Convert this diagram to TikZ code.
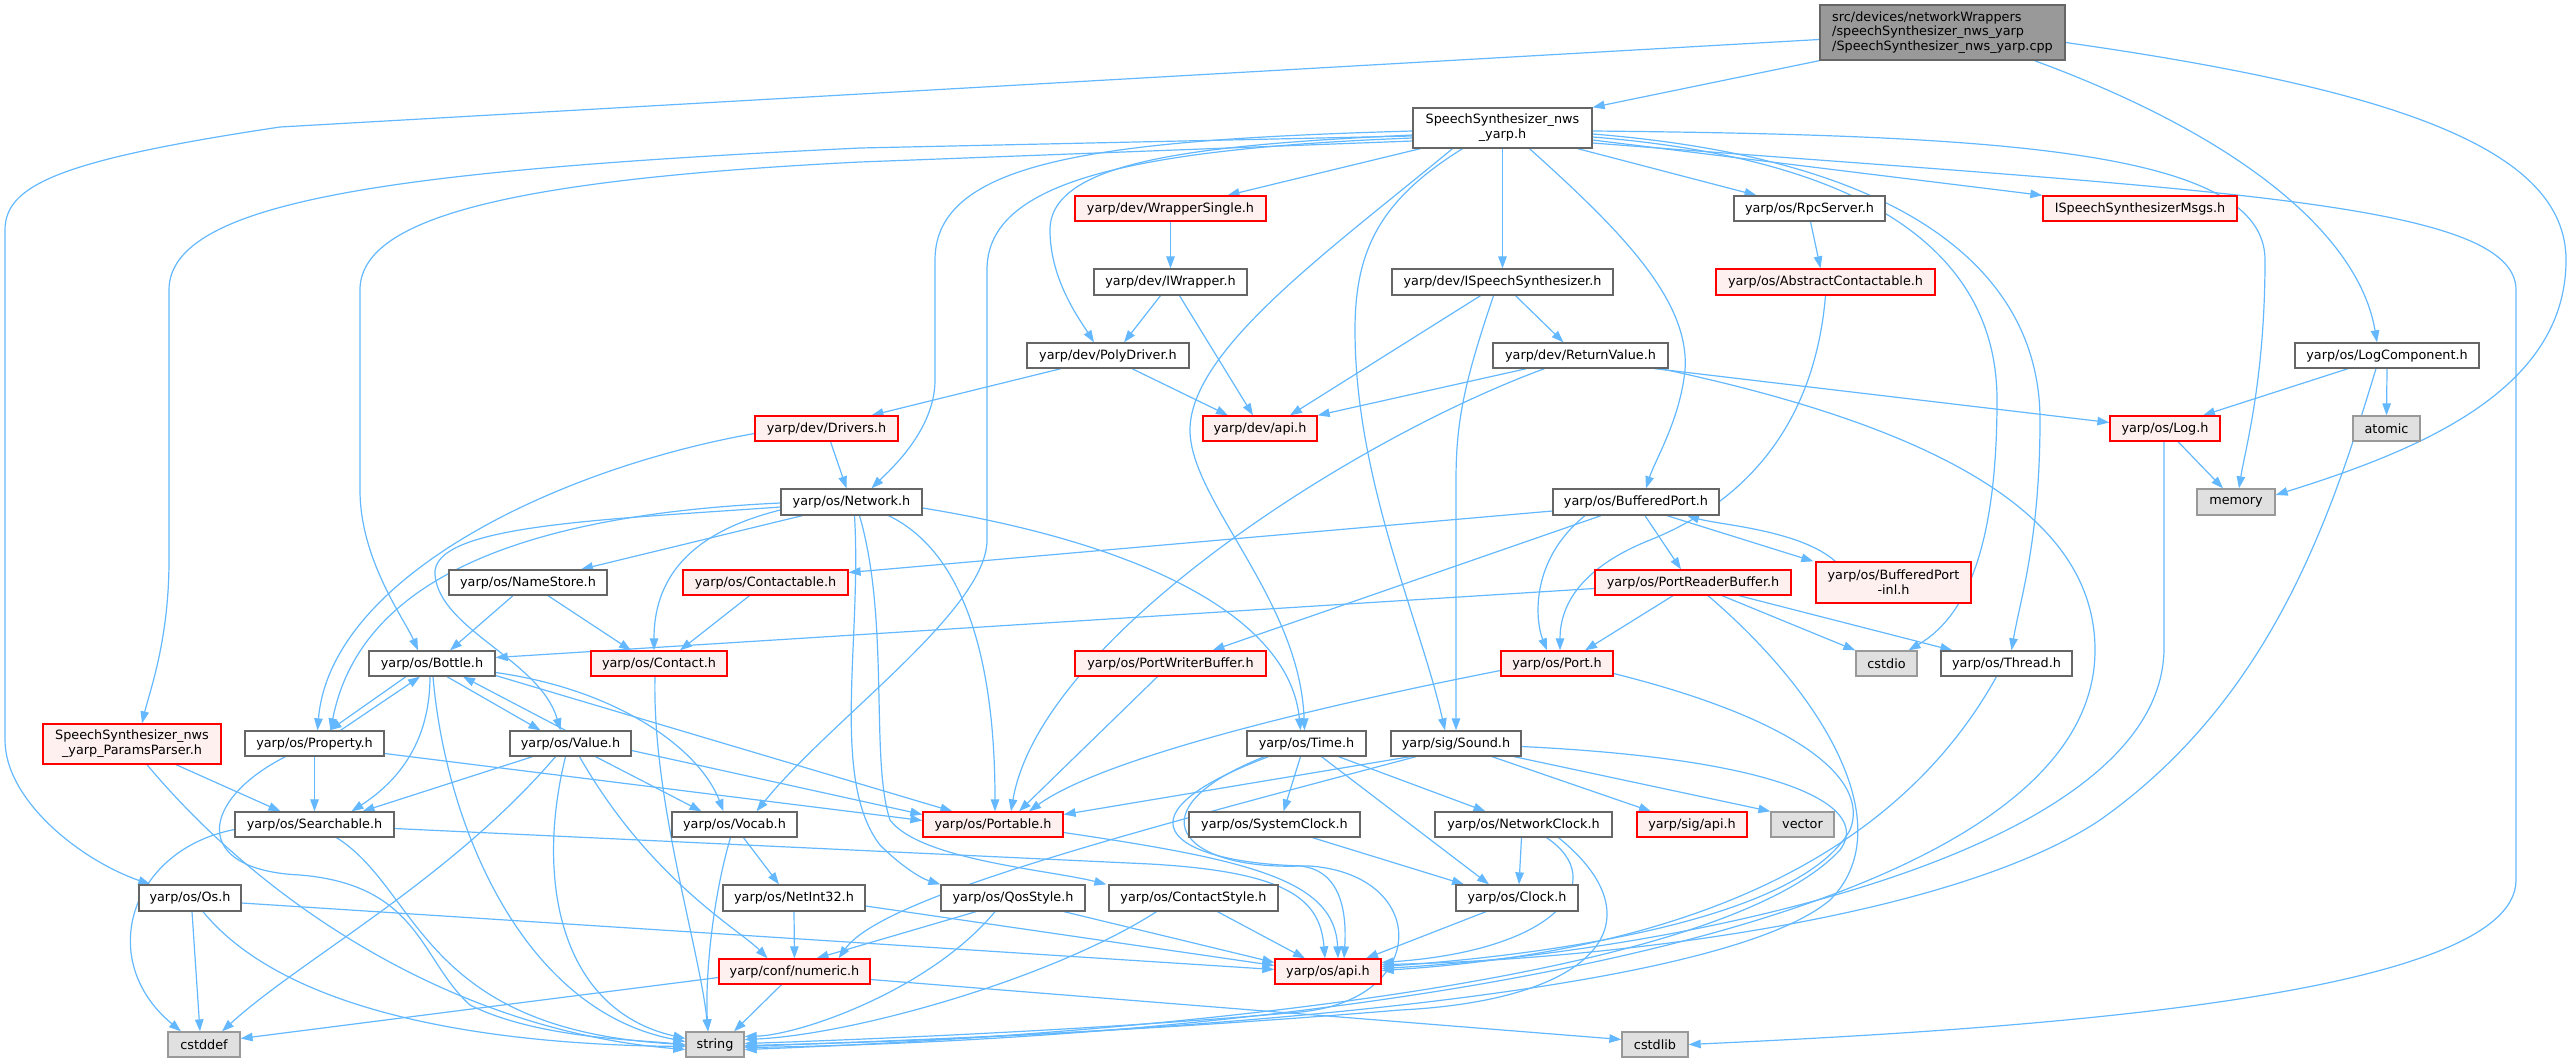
\documentclass[tikz,border=0pt]{standalone}
\usepackage{fontspec}
\setmainfont{DejaVu Sans}
\usetikzlibrary{arrows.meta,calc,backgrounds}
\definecolor{edgec}{HTML}{63B8FF}
\definecolor{cdark}{HTML}{666666}
\definecolor{cmid}{HTML}{999999}
\definecolor{cgrayfill}{HTML}{E0E0E0}
\definecolor{cpink}{HTML}{FFF0F0}
\definecolor{cred}{HTML}{FF0000}
\begin{document}
\begin{tikzpicture}[x=1pt,y=-1pt,
  every node/.style={font=\fontsize{12.8}{14.8}\selectfont, inner sep=0pt, line width=1.3pt, rectangle},
  nb/.style={draw=cdark, fill=white},
  nr/.style={draw=cred, fill=cpink},
  ng/.style={draw=cmid, fill=cgrayfill},
  nroot/.style={draw=cdark, fill=cmid},
  e/.style={draw=edgec, line width=1.2pt, -{Triangle[length=12pt,width=8.5pt]}},
]
\useasboundingbox (0,0) rectangle (2572,1063);
% nodes
\node[nroot, minimum width=245pt, minimum height=55pt, align=left] (root) at (1942.5,32.5) {src/devices/networkWrappers\\/speechSynthesizer\_nws\_yarp\\/SpeechSynthesizer\_nws\_yarp.cpp};
\node[nb, minimum width=179pt, minimum height=40pt, align=center] (speech) at (1502.5,128) {SpeechSynthesizer\_nws\\\_yarp.h};
\node[nr, minimum width=191pt, minimum height=25pt] (wrap) at (1170.5,208.5) {yarp/dev/WrapperSingle.h};
\node[nb, minimum width=153pt, minimum height=26pt] (iwrap) at (1170.5,282) {yarp/dev/IWrapper.h};
\node[nb, minimum width=221pt, minimum height=26pt] (ispeech) at (1502.5,282) {yarp/dev/ISpeechSynthesizer.h};
\node[nb, minimum width=151pt, minimum height=25pt] (rpc) at (1809.5,208.5) {yarp/os/RpcServer.h};
\node[nr, minimum width=194pt, minimum height=25pt] (msgs) at (2140,208.5) {ISpeechSynthesizerMsgs.h};
\node[nr, minimum width=219pt, minimum height=26pt] (abs) at (1825.5,282) {yarp/os/AbstractContactable.h};
\node[nb, minimum width=162pt, minimum height=25pt] (poly) at (1108,355.5) {yarp/dev/PolyDriver.h};
\node[nb, minimum width=175pt, minimum height=25pt] (ret) at (1580.5,355.5) {yarp/dev/ReturnValue.h};
\node[nb, minimum width=184pt, minimum height=25pt] (logc) at (2387,355.5) {yarp/os/LogComponent.h};
\node[nr, minimum width=143pt, minimum height=25pt] (drv) at (826.5,428.5) {yarp/dev/Drivers.h};
\node[nr, minimum width=114pt, minimum height=25pt] (devapi) at (1260,428.5) {yarp/dev/api.h};
\node[nr, minimum width=110pt, minimum height=25pt] (log) at (2165,428.5) {yarp/os/Log.h};
\node[ng, minimum width=67pt, minimum height=25pt] (atomic) at (2386.5,428.5) {atomic};
\node[nb, minimum width=141pt, minimum height=26pt] (net) at (851.5,502) {yarp/os/Network.h};
\node[nb, minimum width=166pt, minimum height=26pt] (bport) at (1636,502) {yarp/os/BufferedPort.h};
\node[ng, minimum width=78pt, minimum height=26pt] (memory) at (2236,502) {memory};
\node[nb, minimum width=158pt, minimum height=25pt] (names) at (528,582.5) {yarp/os/NameStore.h};
\node[nr, minimum width=165pt, minimum height=25pt] (ctable) at (765.5,582.5) {yarp/os/Contactable.h};
\node[nr, minimum width=196pt, minimum height=25pt] (prb) at (1693,582.5) {yarp/os/PortReaderBuffer.h};
\node[nr, minimum width=155pt, minimum height=41pt, align=center] (binl) at (1893.5,582.5) {yarp/os/BufferedPort\\-inl.h};
\node[nb, minimum width=126pt, minimum height=25pt] (bottle) at (432,663.5) {yarp/os/Bottle.h};
\node[nr, minimum width=136pt, minimum height=25pt] (contact) at (659,663.5) {yarp/os/Contact.h};
\node[nr, minimum width=191pt, minimum height=25pt] (pwb) at (1170.5,663.5) {yarp/os/PortWriterBuffer.h};
\node[nr, minimum width=112pt, minimum height=25pt] (port) at (1557,663.5) {yarp/os/Port.h};
\node[ng, minimum width=61pt, minimum height=25pt] (cstdio) at (1886.5,663.5) {cstdio};
\node[nb, minimum width=131pt, minimum height=25pt] (thread) at (2006.5,663.5) {yarp/os/Thread.h};
\node[nr, minimum width=178pt, minimum height=40pt, align=center] (params) at (132,744) {SpeechSynthesizer\_nws\\\_yarp\_ParamsParser.h};
\node[nb, minimum width=139pt, minimum height=25pt] (prop) at (314.5,743.5) {yarp/os/Property.h};
\node[nb, minimum width=121pt, minimum height=25pt] (value) at (570.5,743.5) {yarp/os/Value.h};
\node[nb, minimum width=119pt, minimum height=25pt] (time) at (1306.5,743.5) {yarp/os/Time.h};
\node[nb, minimum width=130pt, minimum height=25pt] (sound) at (1456,743.5) {yarp/sig/Sound.h};
\node[nb, minimum width=159pt, minimum height=25pt] (search) at (314.5,824.5) {yarp/os/Searchable.h};
\node[nb, minimum width=125pt, minimum height=25pt] (vocab) at (734.5,824.5) {yarp/os/Vocab.h};
\node[nr, minimum width=140pt, minimum height=25pt] (portable) at (993,824.5) {yarp/os/Portable.h};
\node[nb, minimum width=171pt, minimum height=25pt] (sysclk) at (1274.5,824.5) {yarp/os/SystemClock.h};
\node[nb, minimum width=177pt, minimum height=25pt] (netclk) at (1523.5,824.5) {yarp/os/NetworkClock.h};
\node[nr, minimum width=110pt, minimum height=25pt] (sigapi) at (1692,824.5) {yarp/sig/api.h};
\node[ng, minimum width=63pt, minimum height=25pt] (vector) at (1802.5,824.5) {vector};
\node[nb, minimum width=102pt, minimum height=26pt] (os) at (190,898) {yarp/os/Os.h};
\node[nb, minimum width=142pt, minimum height=26pt] (ni32) at (794,898) {yarp/os/NetInt32.h};
\node[nb, minimum width=144pt, minimum height=26pt] (qos) at (1013,898) {yarp/os/QosStyle.h};
\node[nb, minimum width=169pt, minimum height=26pt] (cstyle) at (1193.5,898) {yarp/os/ContactStyle.h};
\node[nb, minimum width=122pt, minimum height=26pt] (clock) at (1517,898) {yarp/os/Clock.h};
\node[nr, minimum width=151pt, minimum height=25pt] (numeric) at (794.5,971.5) {yarp/conf/numeric.h};
\node[nr, minimum width=106pt, minimum height=25pt] (osapi) at (1328,971.5) {yarp/os/api.h};
\node[ng, minimum width=72pt, minimum height=25pt] (cstddef) at (204,1044.5) {cstddef};
\node[ng, minimum width=58pt, minimum height=25pt] (string) at (715,1044.5) {string};
\node[ng, minimum width=66pt, minimum height=25pt] (cstdlib) at (1655,1044.5) {cstdlib};

\begin{scope}[on background layer]
% root
\draw[e] (root.south west) -- (speech.north east);
\draw[e] ($(root.west)+(0,7)$) -- (280,127) .. controls (60,160) and (5,185) .. (5,230) -- (5,740) .. controls (5,800) and (80,860) .. ($(os.north west)+(12,0)$);
\draw[e] ($(root.south)+(92,0)$) .. controls (2250,140) and (2360,240) .. ($(logc.north)+(-10,0)$);
\draw[e] ($(root.east)+(0,10)$) .. controls (2400,90) and (2566,150) .. (2566,260) .. controls (2566,390) and (2420,450) .. ($(memory.east)+(0,-7)$);
% speech
\draw[e] ($(speech.south west)+(8,0)$) -- ($(wrap.north)+(57,0)$);
\draw[e] (speech.south) -- (ispeech.north);
\draw[e] ($(speech.west)+(0,7)$) .. controls (1200,145) and (1050,160) .. (1050,230) .. controls (1050,280) and (1080,320) .. ($(poly.north)+(-14,0)$);
\draw[e] ($(speech.west)+(0,3)$) .. controls (1100,140) and (935,160) .. (935,260) -- (935,380) .. controls (935,430) and (890,470) .. ($(net.north)+(20,0)$);
\draw[e] ($(speech.west)+(0,10)$) .. controls (1100,150) and (987,190) .. (987,270) -- (987,540) .. controls (987,610) and (830,720) .. ($(vocab.north)+(22,0)$);
\draw[e] ($(speech.west)+(0,13)$) -- (860,162) .. controls (500,180) and (360,220) .. (360,290) -- (360,490) .. controls (360,560) and (405,620) .. ($(bottle.north)+(-14,0)$);
\draw[e] ($(speech.west)+(0,8)$) -- (860,148) .. controls (400,170) and (169,200) .. (169,290) -- (169,560) .. controls (169,640) and (150,690) .. ($(params.north)+(10,0)$);
\draw[e] ($(speech.south)+(-50,0)$) .. controls (1330,250) and (1190,350) .. (1190,430) .. controls (1190,500) and (1300,600) .. ($(time.north)+(-2,0)$);
\draw[e] ($(speech.south)+(-40,0)$) .. controls (1380,200) and (1355,250) .. (1355,330) .. controls (1355,480) and (1420,620) .. ($(sound.north)+(-11,0)$);
\draw[e] ($(speech.south)+(27,0)$) .. controls (1620,230) and (1690,300) .. (1685,370) .. controls (1680,420) and (1655,460) .. ($(bport.north)+(10,0)$);
\draw[e] ($(speech.south east)+(-15,0)$) -- ($(rpc.north)+(-53,0)$);
\draw[e] ($(speech.east)+(0,12)$) -- (msgs.north west);
\draw[e] ($(speech.east)+(0,3)$) .. controls (2000,135) and (2265,150) .. (2265,260) .. controls (2265,380) and (2245,450) .. ($(memory.north)+(3,0)$);
\draw[e] ($(speech.east)+(0,15)$) .. controls (2200,190) and (2516,200) .. (2516,290) -- (2516,880) .. controls (2516,1000) and (2000,1030) .. (cstdlib.east);
\draw[e] ($(speech.east)+(0,9)$) .. controls (1880,160) and (1997,260) .. (1997,400) .. controls (1997,560) and (1960,620) .. ($(cstdio.north)+(22,0)$);
\draw[e] ($(speech.east)+(0,6)$) .. controls (1920,160) and (2040,280) .. (2040,420) .. controls (2040,540) and (2020,600) .. ($(thread.north)+(5,0)$);
% dev
\draw[e] ($(ispeech.south)+(-22,0)$) -- ($(devapi.north)+(30,0)$);
\draw[e] ($(ispeech.south)+(13,0)$) -- ($(ret.north)+(-17,0)$);
\draw[e] ($(ispeech.south)+(-9,0)$) .. controls (1465,380) and (1456,420) .. (1456,480) -- (sound.north);
\draw[e] (wrap.south) -- (iwrap.north);
\draw[e] ($(iwrap.south)+(-10,0)$) -- ($(poly.north)+(16,0)$);
\draw[e] ($(iwrap.south)+(9,0)$) -- ($(devapi.north)+(-7,0)$);
\draw[e] ($(poly.south)+(-47,0)$) -- ($(drv.north)+(45,0)$);
\draw[e] ($(poly.south)+(24,0)$) -- ($(devapi.north)+(-32,0)$);
\draw[e] ($(ret.south)+(-54,0)$) -- (devapi.north east);
\draw[e] ($(ret.south)+(-36,0)$) .. controls (1350,440) and (1040,640) .. ($(portable.north)+(18,0)$);
\draw[e] ($(ret.south east)+(-14,0)$) -- ($(log.west)+(0,-6)$);
\draw[e] ($(ret.south east)+(-8,0)$) .. controls (1950,430) and (2095,520) .. (2095,650) .. controls (2095,950) and (1250,1040) .. ($(string.east)+(0,3)$);
\draw[e] ($(rpc.south)+(1,0)$) -- ($(abs.north)+(-5,0)$);
\draw[e] (abs.south) .. controls (1815,420) and (1750,500) .. (1650,540) .. controls (1575,570) and (1560,610) .. ($(port.north)+(3,0)$);
% log
\draw[e] ($(logc.south)+(-39,0)$) -- ($(log.north)+(38,0)$);
\draw[e] (logc.south) -- (atomic.north);
\draw[e] ($(logc.south)+(-11,0)$) .. controls (2330,520) and (2270,700) .. (2100,820) .. controls (1950,920) and (1600,960) .. ($(osapi.east)+(0,-7)$);
\draw[e] ($(log.south)+(13,0)$) -- ($(memory.north)+(-13,0)$);
\draw[e] ($(log.south)+(-1,0)$) -- (2164,650) .. controls (2160,850) and (1700,950) .. ($(osapi.east)+(0,-3)$);
% network
\draw[e] ($(drv.south)+(4,0)$) -- ($(net.north)+(-5,0)$);
\draw[e] ($(drv.west)+(0,5)$) .. controls (550,470) and (330,580) .. ($(prop.north)+(3,0)$);
\draw[e] ($(net.south west)+(22,0)$) -- ($(names.north)+(53,0)$);
\draw[e] ($(net.west)+(0,8)$) .. controls (700,530) and (654,570) .. ($(contact.north)+(-5,0)$);
\draw[e] ($(net.west)+(0,1)$) .. controls (520,515) and (360,580) .. ($(prop.north)+(16,0)$);
\draw[e] ($(net.west)+(0,5)$) .. controls (600,520) and (430,525) .. (435,575) .. controls (440,630) and (540,660) .. ($(value.north)+(-10,0)$);
\draw[e] ($(net.south)+(37,0)$) .. controls (960,550) and (995,650) .. ($(portable.north)+(2,0)$);
\draw[e] ($(net.east)+(0,6)$) .. controls (1150,545) and (1290,620) .. ($(time.north)+(-6,0)$);
\draw[e] ($(net.south)+(3,0)$) .. controls (862,640) and (830,780) .. (880,845) .. controls (900,865) and (920,878) .. (qos.north west);
\draw[e] ($(net.south)+(8,0)$) .. controls (890,620) and (870,760) .. (890,820) .. controls (920,860) and (1050,870) .. ($(cstyle.north west)+(-2,0)$);
\draw[e] ($(names.south)+(-15,0)$) -- ($(bottle.north)+(18,0)$);
\draw[e] ($(names.south)+(20,0)$) -- ($(contact.north)+(-28,0)$);
\draw[e] ($(ctable.south)+(-16,0)$) -- ($(contact.north)+(21,0)$);
\draw[e] ($(contact.south)+(-4,0)$) .. controls (652,800) and (700,950) .. ($(string.north)+(-7,0)$);
% bottle / property / value
\draw[e] ($(bottle.south)+(-26,0)$) -- ($(prop.north)+(15,0)$);
\draw[e] ($(prop.north)+(26,0)$) -- ($(bottle.south)+(-12,0)$);
\draw[e] ($(bottle.south)+(15,0)$) -- ($(value.north)+(-30,0)$);
\draw[e] ($(value.north)+(-5,0)$) -- ($(bottle.south)+(31,0)$);
\draw[e] ($(bottle.south)+(-2,0)$) .. controls (430,740) and (400,780) .. ($(search.north)+(37,0)$);
\draw[e] ($(bottle.south)+(1,0)$) .. controls (445,820) and (520,1010) .. ($(string.west)+(0,-3)$);
\draw[e] ($(bottle.east)+(0,12)$) -- ($(portable.north west)+(30,0)$);
\draw[e] ($(bottle.east)+(0,9)$) .. controls (620,690) and (700,750) .. ($(vocab.north)+(-11,0)$);
\draw[e] (prop.south) -- (search.north);
\draw[e] ($(prop.south)+(-29,0)$) .. controls (200,800) and (190,870) .. (300,875) .. controls (420,885) and (420,960) .. (470,1005) .. controls (540,1040) and (650,1040) .. ($(string.west)+(0,1)$);
\draw[e] ($(prop.east)+(0,10)$) -- ($(portable.west)+(0,-4)$);
\draw[e] ($(value.south)+(-38,0)$) -- ($(search.north)+(48,0)$);
\draw[e] ($(value.south)+(25,0)$) -- ($(vocab.north)+(-33,0)$);
\draw[e] ($(value.east)+(0,7)$) -- ($(portable.west)+(0,-10)$);
\draw[e] ($(value.south)+(-15,0)$) .. controls (450,880) and (300,960) .. ($(cstddef.north)+(18,0)$);
\draw[e] ($(value.south)+(-5,0)$) .. controls (535,880) and (560,1010) .. ($(string.west)+(0,-6)$);
\draw[e] ($(value.south)+(9,0)$) .. controls (650,880) and (740,930) .. ($(numeric.north)+(-27,0)$);
% searchable and co
\draw[e] ($(search.west)+(0,5)$) .. controls (130,850) and (95,960) .. ($(cstddef.north)+(-23,0)$);
\draw[e] ($(search.south)+(22,0)$) .. controls (420,890) and (420,1030) .. (string.west);
\draw[e] ($(search.east)+(0,4)$) -- (1150,864) .. controls (1290,872) and (1320,900) .. ($(osapi.north)+(-3,0)$);
\draw[e] ($(params.south)+(44,0)$) -- ($(search.north)+(-34,0)$);
\draw[e] ($(params.south)+(15,0)$) .. controls (260,900) and (450,1030) .. ($(string.west)+(0,5)$);
\draw[e] ($(vocab.south)+(-4,0)$) .. controls (712,900) and (705,980) .. ($(string.north)+(-7,0)$);
\draw[e] ($(vocab.south)+(9,0)$) -- ($(ni32.north)+(-15,0)$);
\draw[e] (ni32.south) -- (numeric.north);
\draw[e] ($(ni32.east)+(0,8)$) -- ($(osapi.west)+(0,-6)$);
\draw[e] ($(os.east)+(0,5)$) -- ($(osapi.west)+(0,-2)$);
\draw[e] ($(os.south)+(2,0)$) -- ($(cstddef.north)+(-4,0)$);
\draw[e] ($(os.south)+(13,0)$) .. controls (300,1030) and (550,1045) .. ($(string.west)+(0,2)$);
\draw[e] ($(numeric.west)+(0,6)$) -- ($(cstddef.east)+(0,-6)$);
\draw[e] ($(numeric.south)+(-13,0)$) -- ($(string.north)+(19,0)$);
\draw[e] ($(numeric.east)+(0,8)$) -- ($(cstdlib.west)+(0,-5)$);
\draw[e] ($(qos.south)+(-37,0)$) -- ($(numeric.north)+(22,0)$);
\draw[e] ($(qos.south)+(-18,0)$) .. controls (930,990) and (800,1035) .. ($(string.east)+(0,-8)$);
\draw[e] ($(qos.south)+(51,0)$) -- ($(osapi.west)+(0,-9)$);
\draw[e] ($(cstyle.south)+(-37,0)$) .. controls (1050,980) and (850,1035) .. ($(string.east)+(0,-5)$);
\draw[e] ($(cstyle.south)+(24,0)$) -- ($(osapi.north)+(-23,0)$);
\draw[e] ($(portable.east)+(0,8)$) .. controls (1250,860) and (1335,880) .. ($(osapi.north)+(10,0)$);
% ports
\draw[e] ($(pwb.south)+(-13,0)$) -- ($(portable.north)+(26,0)$);
\draw[e] ($(port.west)+(0,7)$) .. controls (1300,710) and (1100,760) .. ($(portable.north)+(36,0)$);
\draw[e] ($(port.east)+(0,10)$) .. controls (1800,720) and (1870,780) .. (1850,830) .. controls (1800,920) and (1550,955) .. ($(osapi.east)+(0,-5)$);
\draw[e] ($(prb.west)+(0,6)$) -- ($(bottle.east)+(0,-6)$);
\draw[e] ($(prb.south)+(-20,0)$) -- ($(port.north)+(28,0)$);
\draw[e] ($(prb.south)+(29,0)$) -- (cstdio.north west);
\draw[e] ($(prb.south)+(46,0)$) -- ($(thread.north west)+(12,0)$);
\draw[e] ($(prb.south)+(15,0)$) .. controls (1830,700) and (1900,830) .. (1830,900) .. controls (1700,1010) and (1000,1040) .. ($(string.east)+(0,1)$);
\draw[e] ($(bport.west)+(0,9)$) -- ($(ctable.east)+(0,-10)$);
\draw[e] ($(bport.south)+(-35,0)$) -- ($(pwb.north)+(42,0)$);
\draw[e] ($(bport.south)+(9,0)$) -- ($(prb.north)+(-12,0)$);
\draw[e] ($(bport.south)+(-51,0)$) .. controls (1530,560) and (1535,620) .. ($(port.north)+(-10,0)$);
\draw[e] ($(bport.south)+(31,0)$) -- ($(binl.north west)+(-2,0)$);
\draw[e] ($(binl.north west)+(20,0)$) .. controls (1800,530) and (1720,525) .. ($(bport.south)+(51,0)$);
\draw[e] ($(thread.south)+(-10,0)$) .. controls (1900,850) and (1700,950) .. ($(osapi.east)+(0,-1)$);
% sound / time
\draw[e] ($(sound.south)+(-46,0)$) -- ($(portable.east)+(0,-10)$);
\draw[e] ($(sound.south)+(-40,0)$) .. controls (1100,840) and (880,900) .. ($(numeric.north)+(44,0)$);
\draw[e] ($(sound.south)+(36,0)$) -- ($(sigapi.north)+(-41,0)$);
\draw[e] ($(sound.south)+(58,0)$) -- (vector.north west);
\draw[e] ($(sound.east)+(0,3)$) .. controls (1800,760) and (1870,810) .. (1840,850) .. controls (1700,1000) and (1000,1040) .. ($(string.east)+(0,5)$);
\draw[e] ($(time.south)+(-6,0)$) -- ($(sysclk.north)+(9,0)$);
\draw[e] ($(time.south)+(32,0)$) -- ($(netclk.north)+(-38,0)$);
\draw[e] ($(time.south)+(15,0)$) -- ($(clock.north)+(-28,0)$);
\draw[e] ($(time.south)+(-42,0)$) .. controls (1130,810) and (1180,870) .. (1300,866) .. controls (1340,870) and (1347,910) .. ($(osapi.north)+(16,0)$);
\draw[e] ($(time.south)+(-38,0)$) .. controls (1100,820) and (1180,865) .. (1310,866) .. controls (1430,875) and (1430,1000) .. (1300,1012) .. controls (1100,1030) and (850,1040) .. ($(string.east)+(0,-1)$);
\draw[e] ($(sysclk.south)+(38,0)$) -- ($(clock.north)+(-53,0)$);
\draw[e] ($(netclk.south)+(-2,0)$) -- ($(clock.north)+(2,0)$);
\draw[e] ($(netclk.south)+(23,0)$) .. controls (1610,880) and (1560,950) .. ($(osapi.east)+(0,-9)$);
\draw[e] ($(netclk.south)+(35,0)$) .. controls (1660,920) and (1600,1000) .. (1400,1010) .. controls (1100,1035) and (850,1042) .. ($(string.east)+(0,2)$);
\draw[e] ($(clock.south)+(-31,0)$) -- ($(osapi.north)+(38,0)$);
\end{scope}
\end{tikzpicture}
\end{document}
